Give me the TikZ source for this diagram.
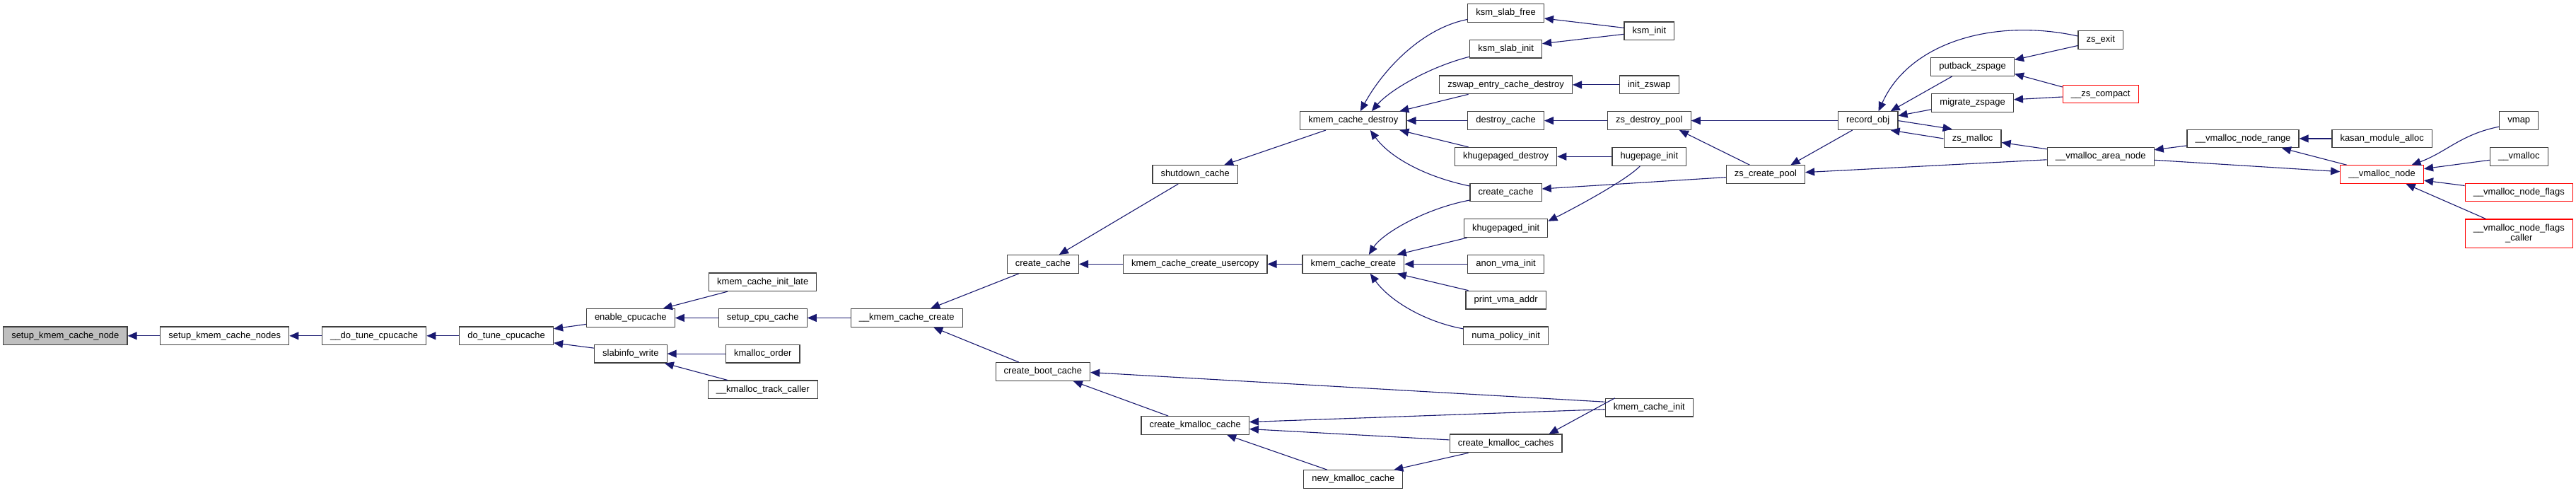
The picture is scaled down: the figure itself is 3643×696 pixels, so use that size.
\documentclass[tikz,border=0pt]{standalone}
\usepackage{fontspec}
\setmainfont{Liberation Sans}
\usetikzlibrary{arrows.meta,calc}
\definecolor{edgec}{HTML}{191970}
\definecolor{bordc}{HTML}{404040}
\definecolor{rootfill}{HTML}{BFBFBF}
\tikzset{
  base/.style={draw=bordc, line width=1.2pt, fill=white, rectangle, inner xsep=11.6pt, inner ysep=0pt,
    minimum height=25.7pt, font=\fontsize{12.97pt}{14pt}\selectfont},
  fn/.style={base, text height=9.3pt, text depth=2.7pt},
  rn/.style={fn, draw=red},
  e/.style={draw=edgec, line width=1.1pt, <-, >={Triangle[length=13pt,width=11pt]}},
}
\begin{document}
\begin{tikzpicture}[x=1pt,y=-1pt]
\useasboundingbox (0,0) rectangle (3643,696);
\fill[white] (0,0) rectangle (3643,696);
% rank 0-3
\node[fn, fill=rootfill] (skcn) at (92.35,474.8) {setup\_kmem\_cache\_node};
\node[fn] (skcns) at (317.8,474.8) {setup\_kmem\_cache\_nodes};
\node[fn] (dtc) at (529.2,474.8) {\_\_do\_tune\_cpucache};
\node[fn] (dotune) at (716.1,474.8) {do\_tune\_cpucache};
% rank 4
\node[fn] (ecc) at (891.85,449.45) {enable\_cpucache};
\node[fn] (sw) at (891.85,500.15) {slabinfo\_write};
% rank 5
\node[fn] (kcil) at (1078.75,398.75) {kmem\_cache\_init\_late};
\node[fn] (scc) at (1078.75,449.45) {setup\_cpu\_cache};
\node[fn] (kmo) at (1078.75,500.15) {kmalloc\_order};
\node[fn] (kmtc) at (1078.75,550.85) {\_\_kmalloc\_track\_caller};
% rank 6
\node[fn] (ukcc) at (1282.2,449.45) {\_\_kmem\_cache\_create};
% rank 7
\node[fn] (cc1) at (1474.85,373.4) {create\_cache};
\node[fn] (cbc) at (1474.85,525.5) {create\_boot\_cache};
% rank 8
\node[fn] (sdc) at (1690.2,246.65) {shutdown\_cache};
\node[fn] (kccu) at (1690.2,373.4) {kmem\_cache\_create\_usercopy};
\node[fn] (ckc) at (1690.2,601.55) {create\_kmalloc\_cache};
% rank 9
\node[fn] (kcd) at (1913.85,170.6) {kmem\_cache\_destroy};
\node[fn] (kcc) at (1913.85,373.4) {kmem\_cache\_create};
\node[fn] (nkc) at (1913.85,677.6) {new\_kmalloc\_cache};
% rank 10
\node[fn] (ksf) at (2129.6,18.5) {ksm\_slab\_free};
\node[fn] (ksi) at (2129.6,69.2) {ksm\_slab\_init};
\node[fn] (zecd) at (2129.6,119.9) {zswap\_entry\_cache\_destroy};
\node[fn] (dc) at (2129.6,170.6) {destroy\_cache};
\node[fn] (khd) at (2129.6,221.3) {khugepaged\_destroy};
\node[fn] (cc2) at (2129.6,272.0) {create\_cache};
\node[fn] (khi) at (2129.6,322.7) {khugepaged\_init};
\node[fn] (avi) at (2129.6,373.4) {anon\_vma\_init};
\node[fn] (pva) at (2129.6,424.1) {print\_vma\_addr};
\node[fn] (npi) at (2129.6,474.8) {numa\_policy\_init};
\node[fn] (ckcs) at (2129.6,626.9) {create\_kmalloc\_caches};
% rank 11
\node[fn] (ksmi) at (2332.35,43.85) {ksm\_init};
\node[fn] (izs) at (2332.35,119.9) {init\_zswap};
\node[fn] (zdp) at (2332.35,170.6) {zs\_destroy\_pool};
\node[fn] (hpi) at (2332.35,221.3) {hugepage\_init};
\node[fn] (kci) at (2332.35,576.2) {kmem\_cache\_init};
% rank 12-13
\node[fn] (zcp) at (2496.9,246.65) {zs\_create\_pool};
\node[fn] (ro) at (2641.65,170.6) {record\_obj};
% rank 14
\node[fn] (pz) at (2789.6,94.55) {putback\_zspage};
\node[fn] (mz) at (2789.6,145.25) {migrate\_zspage};
\node[fn] (zm) at (2789.6,195.95) {zs\_malloc};
% rank 15
\node[fn] (ze) at (2970.7,56.5) {zs\_exit};
\node[rn] (zc) at (2970.7,133.0) {\_\_zs\_compact};
\node[fn] (van) at (2970.7,221.3) {\_\_vmalloc\_area\_node};
% rank 16-17
\node[fn] (vnr) at (3172.0,195.95) {\_\_vmalloc\_node\_range};
\node[fn] (kma) at (3368.6,195.95) {kasan\_module\_alloc};
\node[rn] (vn) at (3368.6,246.65) {\_\_vmalloc\_node};
% rank 18
\node[fn] (vmap) at (3562.3,170.6) {vmap};
\node[fn] (vm) at (3562.3,221.3) {\_\_vmalloc};
\node[rn] (vnf) at (3562.3,272.0) {\_\_vmalloc\_node\_flags};
\node[base, draw=red, align=center, minimum height=40.7pt] (vnfc) at (3562.3,330.3) {\_\_vmalloc\_node\_flags\\\_caller};

% edges
\draw[e] (skcn.east) -- (skcns.west);
\draw[e] (skcns.east) -- (dtc.west);
\draw[e] (dtc.east) -- (dotune.west);
\draw[e] ($(dotune.east)+(0,-10)$) -- ($(ecc.west)+(0,9)$);
\draw[e] ($(dotune.east)+(0,10)$) -- ($(sw.west)+(0,-8)$);
\draw[e] ($(ecc.north)+(46,0)$) -- ($(kcil.south)+(-50,0)$);
\draw[e] (ecc.east) -- (scc.west);
\draw[e] (sw.east) -- (kmo.west);
\draw[e] ($(sw.south)+(48,0)$) -- ($(kmtc.north)+(-50,0)$);
\draw[e] (scc.east) -- (ukcc.west);
\draw[e] ($(ukcc.north)+(34,0)$) -- ($(cc1.south)+(-34,0)$);
\draw[e] ($(ukcc.south)+(38,0)$) -- ($(cbc.north)+(-34,0)$);
\draw[e] ($(cc1.north)+(23,0)$) -- ($(sdc.south)+(-24,0)$);
\draw[e] (cc1.east) -- (kccu.west);
\draw[e] ($(sdc.north)+(41,0)$) -- ($(kcd.south)+(-39,0)$);
\draw[e] (kccu.east) -- (kcc.west);
\draw[e] ($(cbc.east)+(0,1)$) -- ($(kci.west)+(0,-8)$);
\draw[e] ($(cbc.south)+(43,0)$) -- ($(ckc.north)+(-38,0)$);
\draw[e] ($(ckc.east)+(0,-5)$) -- ($(kci.west)+(0,2.5)$);
\draw[e] ($(ckc.east)+(0,5)$) -- ($(ckcs.west)+(0,-5)$);
\draw[e] ($(ckc.south)+(45,0)$) -- ($(nkc.north)+(-37,0)$);
\draw[e] ($(nkc.north)+(57.5,0)$) -- ($(ckcs.south)+(-53,0)$);
\draw[e] ($(ckcs.north)+(61,0)$) -- ($(kci.north)+(-48.5,0)$);
\draw[e] ($(kcd.north)+(10,0)$) .. controls (1955,100) and (2010,40) .. ($(ksf.west)+(0,9)$);
\draw[e] ($(kcd.north)+(26,0)$) .. controls (1965,128) and (2020,95) .. ($(ksi.west)+(0,11)$);
\draw[e] ($(kcd.north)+(65.5,0)$) -- ($(zecd.south)+(-53,0)$);
\draw[e] (kcd.east) -- (dc.west);
\draw[e] ($(kcd.south)+(65.5,0)$) -- ($(khd.north)+(-53,0)$);
\draw[e] ($(kcd.south)+(24,0)$) .. controls (1965,222) and (2015,250) .. ($(cc2.west)+(0,-9)$);
\draw[e] ($(kcc.north)+(22,0)$) .. controls (1955,330) and (2015,295) .. ($(cc2.west)+(0,11)$);
\draw[e] ($(kcc.north)+(62,0)$) -- ($(khi.south)+(-55,0)$);
\draw[e] (kcc.east) -- (avi.west);
\draw[e] ($(kcc.south)+(62,0)$) -- ($(pva.north)+(-53,0)$);
\draw[e] ($(kcc.south)+(24,0)$) .. controls (1965,425) and (2015,455) .. ($(npi.west)+(0,-10)$);
\draw[e] ($(ksf.east)+(0,7.5)$) -- ($(ksmi.west)+(0,-4.5)$);
\draw[e] ($(ksi.east)+(0,-7.5)$) -- ($(ksmi.west)+(0,4.5)$);
\draw[e] (zecd.east) -- (izs.west);
\draw[e] (dc.east) -- (zdp.west);
\draw[e] (khd.east) -- (hpi.west);
\draw[e] ($(khi.east)+(0,-10)$) .. controls (2225,295) and (2300,255) .. ($(hpi.south)+(-13,0)$);
\draw[e] ($(cc2.east)+(0,-5)$) -- ($(zcp.west)+(0,4)$);
\draw[e] (zdp.east) -- (ro.west);
\draw[e] ($(zdp.south)+(42.5,0)$) -- ($(zcp.north)+(-22.5,0)$);
\draw[e] ($(zcp.north)+(35.5,0)$) -- ($(ro.south)+(-22,0)$);
\draw[e] ($(zcp.east)+(0,-3)$) -- ($(van.west)+(0,4.5)$);
\draw[e] ($(ro.north)+(15,0)$) .. controls (2700,60) and (2820,25) .. ($(ze.west)+(0,-5.5)$);
\draw[e] ($(ro.north)+(32,0)$) -- ($(pz.south)+(-29,0)$);
\draw[e] ($(ro.east)+(0,-7)$) -- ($(mz.west)+(0,9.5)$);
\draw[e] ($(ro.south)+(32,0)$) -- (zm.west);
\draw[e] ($(zm.north)+(-29,0)$) -- (ro.east);
\draw[e] ($(pz.east)+(0,-10)$) -- ($(ze.west)+(0,8)$);
\draw[e] ($(pz.east)+(0,10)$) -- ($(zc.west)+(0,-10)$);
\draw[e] ($(mz.east)+(0,-4.5)$) -- ($(zc.west)+(0,4)$);
\draw[e] ($(zm.east)+(0,5.5)$) -- ($(van.west)+(0,-10.5)$);
\draw[e] ($(van.east)+(0,-9.5)$) -- ($(vnr.west)+(0,10)$);
\draw[e] (vnr.east) -- (kma.west);
\draw[e] ($(vnr.south)+(55,0)$) -- ($(vn.north)+(-50,0)$);
\draw[e] ($(vn.west)+(0,-4)$) -- ($(van.east)+(0,5)$);
\draw[e] ($(vn.north)+(42,0)$) .. controls (3460,215) and (3480,190) .. ($(vmap.west)+(0,8.5)$);
\draw[e] ($(vn.east)+(0,-8)$) -- ($(vm.west)+(0,5)$);
\draw[e] ($(vn.east)+(0,8.5)$) -- ($(vnf.west)+(0,-9.5)$);
\draw[e] ($(vn.south)+(34,0)$) -- ($(vnfc.north)+(-47,0)$);
\end{tikzpicture}
\end{document}
